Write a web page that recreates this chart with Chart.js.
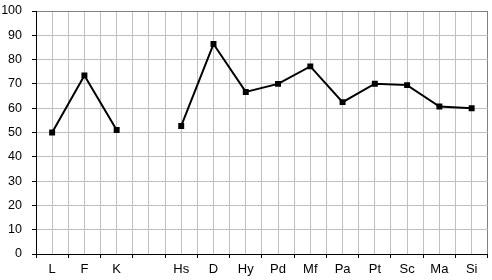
<!DOCTYPE html>
<html>
<head>
<meta charset="utf-8">
<script src="https://cdn.jsdelivr.net/npm/chart.js@4/dist/chart.umd.min.js"></script>
<style>
  html, body { margin: 0; padding: 0; background: #fff; }
  #wrap { width: 492px; height: 280px; }
</style>
</head>
<body>
<div id="wrap"><canvas id="chart"></canvas></div>
<script>
// Category labels (one empty slot between K and Hs)
const categories = ['L', 'F', 'K', '', 'Hs', 'D', 'Hy', 'Pd', 'Mf', 'Pa', 'Pt', 'Sc', 'Ma', 'Si'];
// Scores (null = no value, line broken)
const scores = [50, 73.5, 51, null, 52.7, 86.4, 66.7, 70, 77.2, 62.5, 70.1, 69.5, 60.7, 60];
const yTicks = { min: 0, max: 100, step: 10 };

const ctx = document.getElementById('chart').getContext('2d');

new Chart(ctx, {
    type: 'line',
    data: {
        datasets: [{
            label: 'Profile',
            data: scores.map((v, i) => ({ x: i, y: v })),
            borderColor: '#000',
            backgroundColor: '#000',
            borderWidth: 2,
            pointStyle: 'rect',
            pointRadius: 4.2,
            pointBorderWidth: 0,
            tension: 0,
            spanGaps: false,
            fill: false
        }]
    },
    options: {
        responsive: true,
        maintainAspectRatio: false,
        animation: false,
        layout: { padding: { top: 11, right: 3, left: 0, bottom: 0 } },
        plugins: {
            legend: { display: false },
            tooltip: { enabled: false }
        },
        scales: {
            x: {
                type: 'linear',
                min: -0.5,
                max: categories.length - 0.5,
                afterBuildTicks: (scale) => {
                    // half-category steps: boundaries and centres both get grid lines
                    const ticks = [];
                    for (let v = -0.5; v <= categories.length - 0.5 + 1e-9; v += 0.5) {
                        ticks.push({ value: v });
                    }
                    scale.ticks = ticks;
                },
                afterFit: (scale) => {
                    scale.height = 26;
                    scale.paddingLeft = 0;
                    scale.paddingRight = 0;
                },
                ticks: {
                    autoSkip: false,
                    maxRotation: 0,
                    padding: 4,
                    color: '#000',
                    font: { family: 'Liberation Sans, Arial, sans-serif', size: 13 },
                    callback: (value) => Number.isInteger(value) ? categories[value] : ''
                },
                grid: {
                    color: (c) => (c.tick && c.tick.value === categories.length - 0.5) ? '#808080' : '#c0c0c0',
                    lineWidth: 1,
                    tickLength: 4,
                    tickColor: (c) => (c.tick && !Number.isInteger(c.tick.value)) ? '#000' : 'rgba(0,0,0,0)'
                },
                border: { color: '#000', width: 1 }
            },
            y: {
                min: yTicks.min,
                max: yTicks.max,
                afterFit: (scale) => {
                    scale.width = 36;
                    scale.paddingTop = 0;
                    scale.paddingBottom = 0;
                },
                ticks: {
                    stepSize: yTicks.step,
                    padding: 10,
                    color: '#000',
                    font: { family: 'Liberation Sans, Arial, sans-serif', size: 12.5 }
                },
                grid: {
                    color: (c) => (c.tick && c.tick.value === yTicks.max) ? '#808080' : '#c0c0c0',
                    lineWidth: 1,
                    tickLength: 4,
                    tickColor: '#000'
                },
                border: { color: '#000', width: 1 }
            }
        }
    }
});
</script>
</body>
</html>
